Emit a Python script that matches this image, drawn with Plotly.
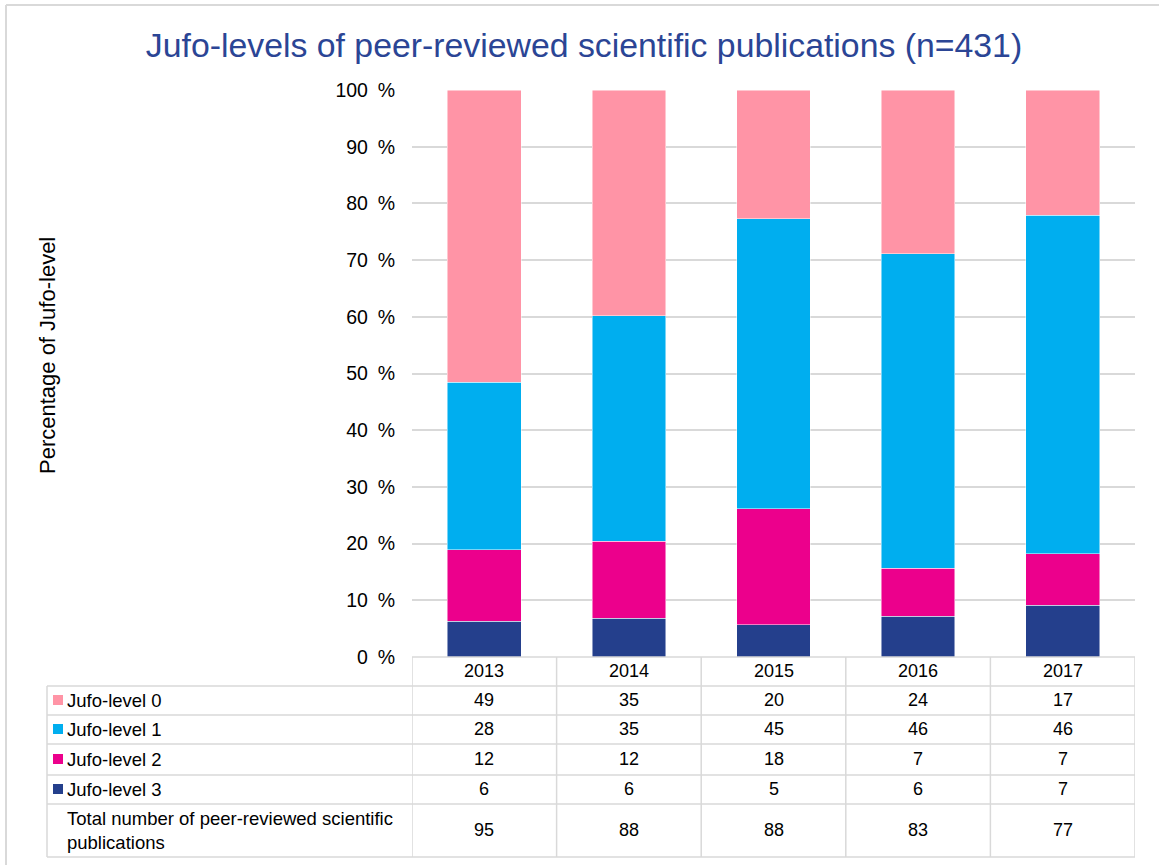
import plotly.graph_objects as go

# Publication counts per Jufo level and year
years = ["2013", "2014", "2015", "2016", "2017"]
level_names = ["Jufo-level 0", "Jufo-level 1", "Jufo-level 2", "Jufo-level 3"]
level0 = [49, 35, 20, 24, 17]
level1 = [28, 35, 45, 46, 46]
level2 = [12, 12, 18, 7, 7]
level3 = [6, 6, 5, 6, 7]
total_label = "Total number of peer-reviewed scientific<br>publications"

colors = {
    "Jufo-level 0": "#FF94A6",
    "Jufo-level 1": "#00AEEF",
    "Jufo-level 2": "#EC008C",
    "Jufo-level 3": "#243F8C",
}

series = {
    "Jufo-level 0": level0,
    "Jufo-level 1": level1,
    "Jufo-level 2": level2,
    "Jufo-level 3": level3,
}
totals = [a + b + c + d for a, b, c, d in zip(level0, level1, level2, level3)]

W, H = 1159, 865
PL, PR, PT, PB = 412, 1135, 90, 657  # plot area in pixels

FONT = "Liberation Sans, Arial, sans-serif"
GRID = "#D9D9D9"


def px(p):
    return (p - PL) / (PR - PL)


def py(p):
    return (PB - p) / (PB - PT)


fig = go.Figure()

# Stack from the bottom: level 3 first
for name in ["Jufo-level 3", "Jufo-level 2", "Jufo-level 1", "Jufo-level 0"]:
    fig.add_trace(go.Bar(
        x=years,
        y=series[name],
        name=name,
        marker=dict(color=colors[name], line=dict(color="rgba(255,255,255,0.6)", width=0.8)),
        hoverinfo="name+y",
    ))

shapes = []
annotations = []

# Chart frame (top and left edges)
shapes.append(dict(type="line", xref="paper", yref="paper",
                   x0=px(6), x1=px(1159), y0=py(5), y1=py(5),
                   line=dict(color=GRID, width=2)))
shapes.append(dict(type="line", xref="paper", yref="paper",
                   x0=px(6), x1=px(6), y0=py(5), y1=py(865),
                   line=dict(color=GRID, width=2)))

# Data table grid
row_lines = [657, 686, 715, 744, 775, 804, 857]
for i, yl in enumerate(row_lines):
    x0 = PL if i == 0 else 47
    shapes.append(dict(type="line", xref="paper", yref="paper",
                       x0=px(x0), x1=px(PR), y0=py(yl), y1=py(yl),
                       line=dict(color=GRID, width=1.5)))
# vertical lines: label column edge and column separators
shapes.append(dict(type="line", xref="paper", yref="paper",
                   x0=px(47), x1=px(47), y0=py(686), y1=py(857),
                   line=dict(color=GRID, width=1.5)))
for k in range(len(years) + 1):
    shapes.append(dict(type="line", xref="x", yref="paper",
                       x0=k - 0.5, x1=k - 0.5, y0=py(657), y1=py(857),
                       line=dict(color=GRID, width=1.5)))

row_centers = [700, 729, 759, 789]
num_font = dict(family=FONT, size=18, color="#000000")
label_font = dict(family=FONT, size=18.5, color="#000000")

# header years
for i, yr in enumerate(years):
    annotations.append(dict(xref="x", yref="paper", x=i, y=py(671), text=yr,
                            showarrow=False, font=num_font, xanchor="center", yanchor="middle"))

# level rows: legend key, name, values
for r, name in enumerate(level_names):
    yc = row_centers[r]
    shapes.append(dict(type="rect", xref="paper", yref="paper",
                       x0=px(53), x1=px(63), y0=py(yc - 5), y1=py(yc + 5),
                       fillcolor=colors[name], line=dict(width=0)))
    annotations.append(dict(xref="paper", yref="paper", x=px(65), y=py(yc), text=name,
                            showarrow=False, font=label_font, xanchor="left", yanchor="middle"))
    for i, v in enumerate(series[name]):
        annotations.append(dict(xref="x", yref="paper", x=i, y=py(yc), text=str(v),
                                showarrow=False, font=num_font, xanchor="center", yanchor="middle"))

# totals row
annotations.append(dict(xref="paper", yref="paper", x=px(65), y=py(830), text=total_label,
                        showarrow=False, font=label_font, xanchor="left", yanchor="middle",
                        align="left"))
for i, v in enumerate(totals):
    annotations.append(dict(xref="x", yref="paper", x=i, y=py(830), text=str(v),
                            showarrow=False, font=num_font, xanchor="center", yanchor="middle"))

# y axis title
annotations.append(dict(xref="paper", yref="paper", x=px(47), y=py(356),
                        text="Percentage of Jufo-level", textangle=-90, showarrow=False,
                        font=dict(family=FONT, size=22, color="#000000"),
                        xanchor="center", yanchor="middle"))

fig.update_layout(
    width=W, height=H,
    margin=dict(l=PL, r=W - PR, t=PT, b=H - PB, autoexpand=False),
    paper_bgcolor="white", plot_bgcolor="white",
    barmode="stack", barnorm="percent", bargap=0.49,
    showlegend=False,
    title=dict(text="Jufo-levels of peer-reviewed scientific publications (n=431)",
               x=584 / W, xref="container", xanchor="center", y=1 - 45 / H, yref="container",
               yanchor="middle",
               font=dict(family=FONT, size=33.8, color="#2B4595")),
    font=dict(family=FONT),
    xaxis=dict(showticklabels=False, showgrid=False, zeroline=False, showline=False,
               ticks="", range=[-0.5, len(years) - 0.5]),
    yaxis=dict(range=[0, 100], dtick=10, tick0=0, ticksuffix="\u2002%",
               showgrid=True, gridcolor=GRID, gridwidth=1.5, zeroline=False,
               showline=False, ticks="", ticklabelstandoff=16,
               tickfont=dict(family=FONT, size=19.5, color="#000000")),
    shapes=shapes,
    annotations=annotations,
)

fig.write_html("out.html")
